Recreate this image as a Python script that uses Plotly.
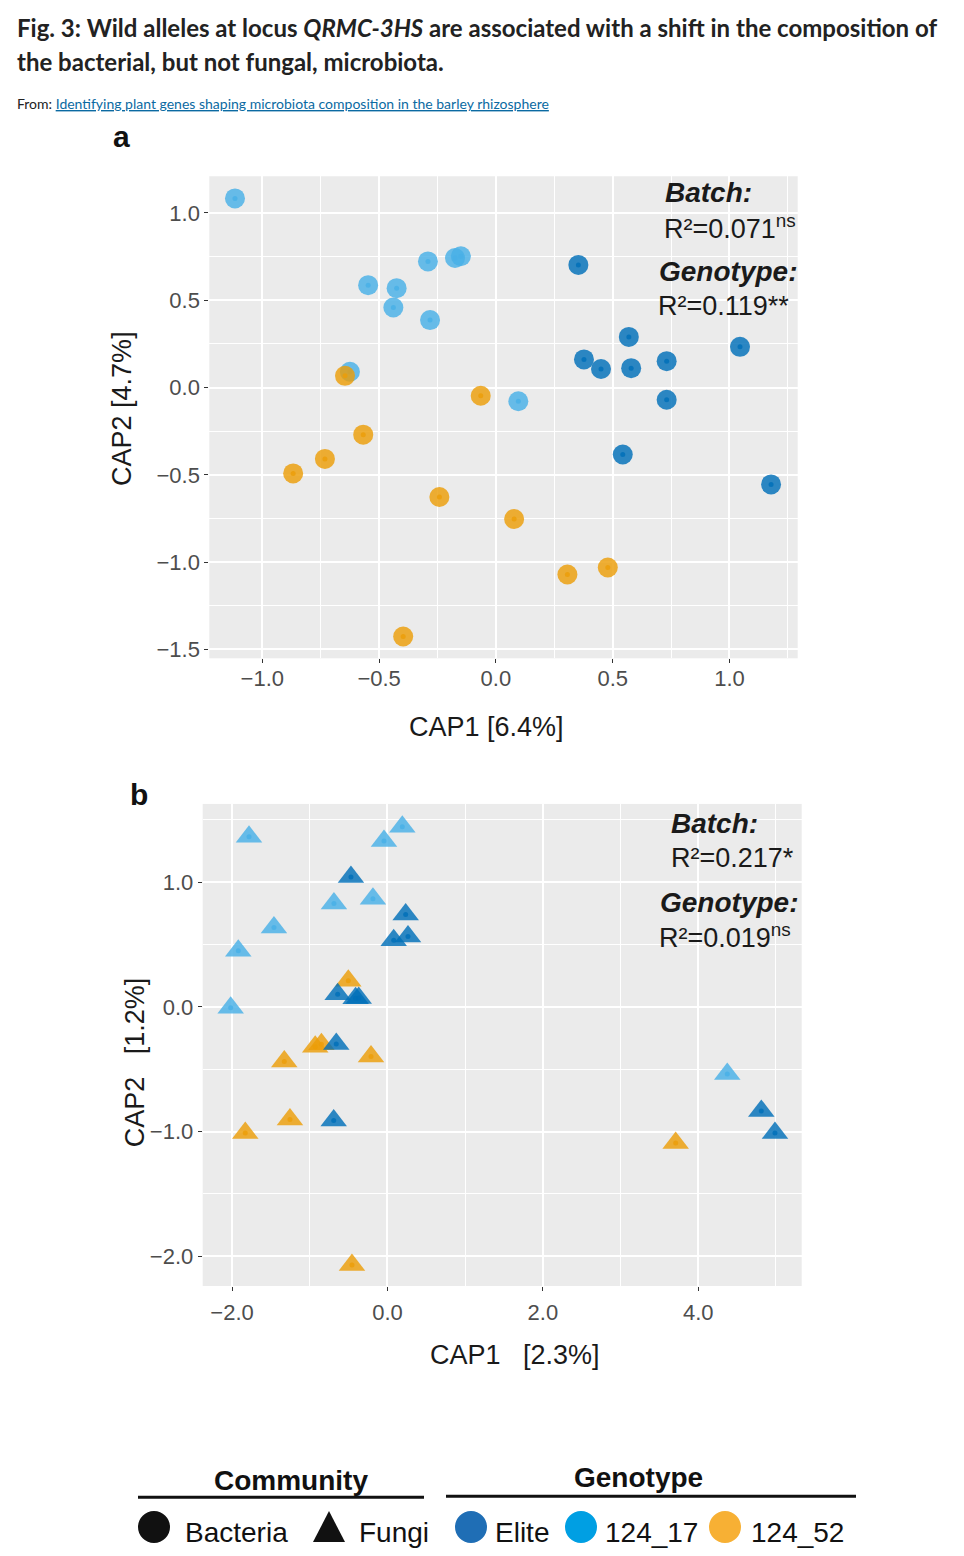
import plotly.graph_objects as go

W, H = 964, 1556

# ---------------- data ----------------
genotypes = ["124_17", "124_52", "Elite"]

a_17_x = [-1.117, -0.291, -0.175, -0.150, -0.547, -0.425, -0.439, -0.282, -0.625, 0.096]
a_17_y = [1.083, 0.722, 0.742, 0.752, 0.586, 0.569, 0.458, 0.386, 0.090, -0.079]
a_52_x = [-0.646, -0.065, -0.568, -0.732, -0.868, -0.242, 0.078, 0.306, 0.479, -0.397]
a_52_y = [0.067, -0.047, -0.270, -0.409, -0.492, -0.627, -0.753, -1.071, -1.031, -1.426]
a_el_x = [0.353, 0.569, 0.377, 0.450, 0.579, 0.731, 1.045, 0.731, 0.543, 1.178]
a_el_y = [0.702, 0.290, 0.161, 0.106, 0.111, 0.151, 0.233, -0.070, -0.384, -0.555]

b_17_x = [-1.782, 0.191, -0.045, -0.689, -0.187, -1.461, -1.920, -2.018, 4.373]
b_17_y = [1.364, 1.444, 1.330, 0.830, 0.868, 0.636, 0.450, -0.006, -0.538]
b_52_x = [-0.504, -0.93, -0.85, -1.328, -0.212, -1.255, -1.830, -0.457, 3.709]
b_52_y = [0.210, -0.32, -0.30, -0.438, -0.398, -0.902, -1.012, -2.070, -1.092]
b_el_x = [-0.470, 0.234, 0.080, 0.264, -0.641, -0.41, -0.37, -0.659, -0.692, 4.811, 4.987]
b_el_y = [1.042, 0.742, 0.534, 0.564, 0.102, 0.070, 0.072, -0.298, -0.910, -0.834, -1.012]

a_xticks = [-1.0, -0.5, 0.0, 0.5, 1.0]
a_xtext = ["−1.0", "−0.5", "0.0", "0.5", "1.0"]
a_yticks = [-1.5, -1.0, -0.5, 0.0, 0.5, 1.0]
a_ytext = ["−1.5", "−1.0", "−0.5", "0.0", "0.5", "1.0"]
b_xticks = [-2.0, 0.0, 2.0, 4.0]
b_xtext = ["−2.0", "0.0", "2.0", "4.0"]
b_yticks = [-2.0, -1.0, 0.0, 1.0]
b_ytext = ["−2.0", "−1.0", "0.0", "1.0"]

a_stats = ["Batch:", "R²=0.071<sup>ns</sup>", "Genotype:", "R²=0.119**"]
b_stats = ["Batch:", "R²=0.217*", "Genotype:", "R²=0.019<sup>ns</sup>"]

# ---------------- styles ----------------
COL = {"Elite": "rgb(0,111,184)", "124_17": "rgb(72,176,231)", "124_52": "rgb(236,158,8)"}
LEG_COL = {"Elite": "#1f6eb5", "124_17": "#009fe3", "124_52": "#f7b034"}
FONT = "Liberation Sans, Arial, sans-serif"
TICKC = "#4d4d4d"


def px_x(p):
    return p / W


def px_y(p):
    return 1 - p / H


fig = go.Figure()

series_a = {"124_17": (a_17_x, a_17_y), "124_52": (a_52_x, a_52_y), "Elite": (a_el_x, a_el_y)}
series_b = {"124_17": (b_17_x, b_17_y), "124_52": (b_52_x, b_52_y), "Elite": (b_el_x, b_el_y)}

for g in genotypes:
    x, y = series_a[g]
    fig.add_trace(go.Scatter(x=x, y=y, mode="markers", xaxis="x", yaxis="y",
                             marker=dict(symbol="circle", size=20, color=COL[g], opacity=0.82,
                                         line=dict(width=0)),
                             showlegend=False, hoverinfo="skip"))
    fig.add_trace(go.Scatter(x=x, y=y, mode="markers", xaxis="x", yaxis="y",
                             marker=dict(symbol="circle", size=5, color=COL[g], opacity=0.82,
                                         line=dict(width=0)),
                             showlegend=False, hoverinfo="skip"))

for g in genotypes:
    x, y = series_b[g]
    fig.add_trace(go.Scatter(x=x, y=y, mode="markers", xaxis="x2", yaxis="y2",
                             marker=dict(symbol="triangle-up", size=23, color=COL[g], opacity=0.82,
                                         line=dict(width=0)),
                             showlegend=False, hoverinfo="skip"))
    fig.add_trace(go.Scatter(x=x, y=y, mode="markers", xaxis="x2", yaxis="y2",
                             marker=dict(symbol="circle", size=5, color=COL[g], opacity=0.82,
                                         line=dict(width=0)),
                             showlegend=False, hoverinfo="skip"))


def axis(domain, rng, tv, tt, minor_vals, anchor, standoff=0):
    return dict(domain=domain, range=rng, anchor=anchor, tickvals=tv, ticktext=tt,
                showgrid=True, gridcolor="white", gridwidth=1.6, zeroline=False,
                showline=False, ticks="outside", ticklen=4, tickwidth=1, tickcolor="#333333",
                tickfont=dict(family=FONT, size=22, color=TICKC),
                ticklabelstandoff=standoff,
                minor=dict(tickvals=minor_vals, showgrid=True, gridcolor="white", gridwidth=0.8,
                           ticks=""),
                fixedrange=True)


a_xminor = [-0.75, -0.25, 0.25, 0.75, 1.25]
a_yminor = [-1.25, -0.75, -0.25, 0.25, 0.75]
b_xminor = [-1.0, 1.0, 3.0, 5.0]
b_yminor = [-1.5, -0.5, 0.5, 1.5]

fig.update_layout(
    width=W, height=H,
    margin=dict(l=0, r=0, t=0, b=0),
    paper_bgcolor="white", plot_bgcolor="#ebebeb",
    xaxis=axis([px_x(209.3), px_x(797.7)], [-1.227, 1.292], a_xticks, a_xtext, a_xminor, "y", -4),
    yaxis=axis([px_y(660), px_y(176.7)], [-1.551, 1.210], a_yticks, a_ytext, a_yminor, "x"),
    xaxis2=axis([px_x(202.7), px_x(801.7)], [-2.378, 5.331], b_xticks, b_xtext, b_xminor, "y2", 3),
    yaxis2=axis([px_y(1289.3), px_y(806)], [-2.238, 1.628], b_yticks, b_ytext, b_yminor, "x2"),
)

ann = []


def text(x, y, s, size, color="#1a1a1a", family=FONT, xanchor="left", yanchor="middle", angle=0):
    ann.append(dict(x=px_x(x), y=px_y(y), xref="paper", yref="paper", text=s, showarrow=False,
                    xanchor=xanchor, yanchor=yanchor, textangle=angle,
                    font=dict(family=family, size=size, color=color)))


# title block
TF = "Lato, Noto Sans, sans-serif"
text(15, 28, "<b>Fig. 3: Wild alleles at locus <i>QRMC-3HS</i> are associated with a shift in the composition of</b>",
     24, "#222222", TF)
text(15, 62, "<b>the bacterial, but not fungal, microbiota.</b>", 24, "#222222", TF)
text(15, 104, "From: <span style='color:#0b6aa2;text-decoration:underline'>Identifying plant genes shaping microbiota composition in the barley rhizosphere</span>",
     14, "#222222", TF)

# panel labels
text(121, 137, "<b>a</b>", 30, "#111111", xanchor="center")
text(139, 797, "<b>b</b>", 30, "#111111", xanchor="center")

# axis titles
text(486, 729, "CAP1 [6.4%]", 27, xanchor="center")
text(122, 410, "CAP2 [4.7%]", 27, xanchor="center", angle=-90)
text(515, 1358, "CAP1   [2.3%]", 27, xanchor="center")
text(135, 1065, "CAP2   [1.2%]", 27, xanchor="center", angle=-90)

# statistics
a_pos = [(663, 193), (662, 228), (657, 272), (656, 307)]
b_pos = [(669, 826), (669, 860), (658, 905), (657, 938)]
for stats, pos in ((a_stats, a_pos), (b_stats, b_pos)):
    for i, (s, (x, y)) in enumerate(zip(stats, pos)):
        if i % 2 == 0:
            text(x, y, "<b><i>" + s + "</i></b>", 28)
        else:
            text(x, y, s, 27)

# legend
text(291, 1484, "<b>Community</b>", 28, "#111111", xanchor="center")
text(638, 1481, "<b>Genotype</b>", 28, "#111111", xanchor="center")
text(183, 1536, "Bacteria", 28, "#111111")
text(357, 1536, "Fungi", 28, "#111111")
text(493, 1536, "Elite", 28, "#111111")
text(603, 1536, "124_17", 28, "#111111")
text(749, 1536, "124_52", 28, "#111111")

shapes = [
    dict(type="line", xref="paper", yref="paper", x0=px_x(138), x1=px_x(424), y0=px_y(1501), y1=px_y(1501),
         line=dict(color="#111111", width=3)),
    dict(type="line", xref="paper", yref="paper", x0=px_x(446), x1=px_x(856), y0=px_y(1500), y1=px_y(1500),
         line=dict(color="#111111", width=3)),
    dict(type="circle", xref="paper", yref="paper", x0=px_x(138), x1=px_x(170), y0=px_y(1547), y1=px_y(1515),
         fillcolor="#111111", line=dict(width=0)),
    dict(type="path", xref="paper", yref="paper",
         path="M %f,%f L %f,%f L %f,%f Z" % (px_x(313), px_y(1546), px_x(345), px_y(1546), px_x(329), px_y(1515)),
         fillcolor="#111111", line=dict(width=0)),
]
for g, cx in (("Elite", 471), ("124_17", 581), ("124_52", 725)):
    shapes.append(dict(type="circle", xref="paper", yref="paper", x0=px_x(cx - 16), x1=px_x(cx + 16),
                       y0=px_y(1547), y1=px_y(1515), fillcolor=LEG_COL[g], line=dict(width=0)))

fig.update_layout(annotations=ann, shapes=shapes)
fig.write_html("out.html")
